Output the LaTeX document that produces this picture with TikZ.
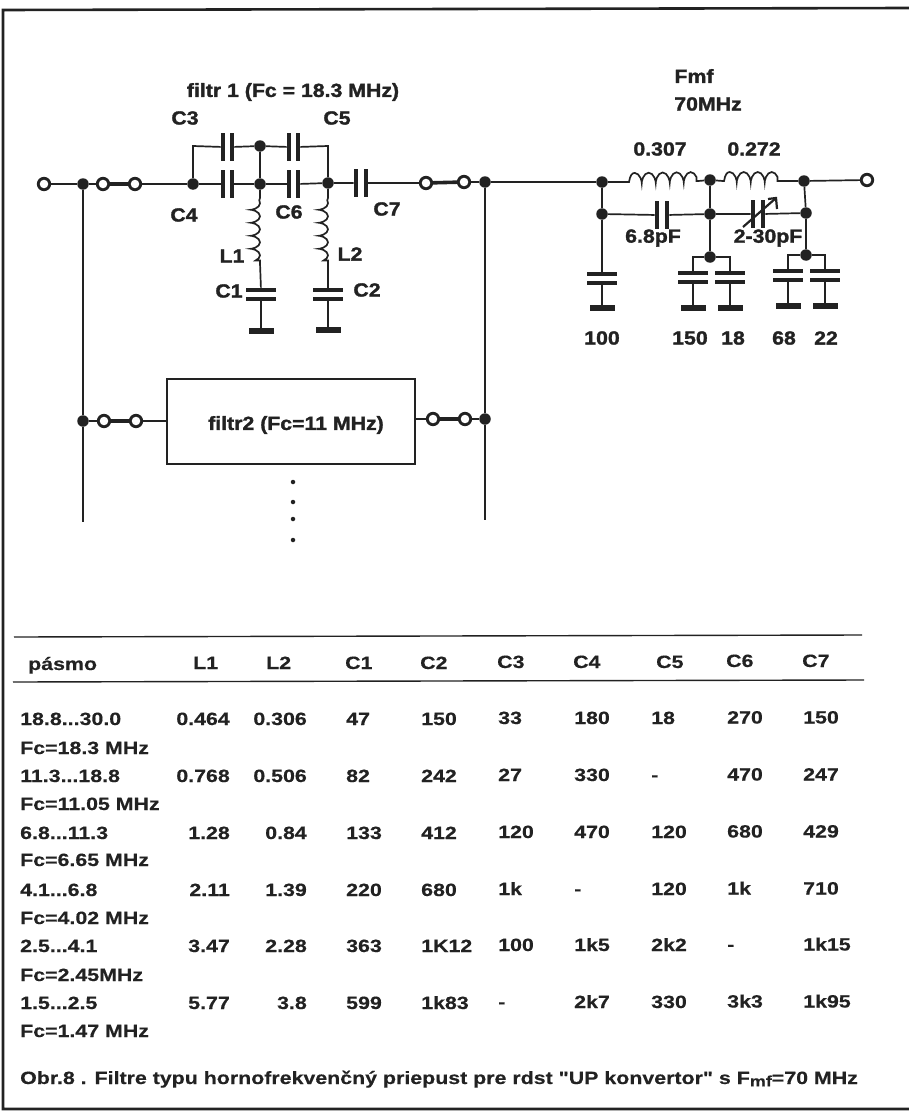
\documentclass[tikz,border=0pt]{standalone}
\usepackage{fontspec}
\usetikzlibrary{decorations.pathmorphing}
\newfontfamily\tabf[FakeStretch=1.2,BoldFeatures={FakeBold=0.4}]{Liberation Sans}
\newfontfamily\schf[FakeStretch=1.12,BoldFeatures={FakeBold=1.6}]{Liberation Sans}
\definecolor{ink}{HTML}{222222}
\tikzset{
  wire/.style={draw=ink,line width=1.7pt},
  thickw/.style={draw=ink,line width=3.6pt},
  frameline/.style={draw=ink,line width=2.6pt},
  rulel/.style={draw=ink,line width=1.4pt},
  junc/.style={circle,fill=ink,inner sep=0pt,minimum size=11.5pt},
  term/.style={circle,draw=ink,fill=white,line width=1.8pt,inner sep=0pt,minimum size=12.5pt},
  vplate/.style={rectangle,fill=ink,inner sep=0pt,minimum width=4.2pt,minimum height=28pt},
  hplate/.style={rectangle,fill=ink,inner sep=0pt,minimum width=30pt,minimum height=4.2pt},
  gndbar/.style={rectangle,fill=ink,inner sep=0pt,minimum width=25pt,minimum height=6.5pt},
  sch/.style={text=ink,inner sep=0pt,anchor=center,font=\schf\fontsize{19}{21}\selectfont\bfseries},
  tab/.style={text=ink,inner sep=0pt,anchor=base west,font=\tabf\fontsize{17.8}{19}\selectfont\bfseries},
  tabr/.style={tab,anchor=base east},
  coilv/.style={wire,decorate,decoration={coil,amplitude=4.5pt,segment length=13pt,aspect=0.45,raise=-4.5pt,pre length=1pt,post length=1pt}},
  coilh/.style={wire,decorate,decoration={coil,amplitude=5pt,segment length=14pt,aspect=0.45,raise=4pt,pre length=1pt,post length=1pt}},
  dotn/.style={circle,fill=ink,inner sep=0pt,minimum size=4.5pt},
  boxn/.style={rectangle,draw=ink,fill=white,line width=2.2pt,inner sep=0pt,minimum width=248pt,minimum height=85pt},
}
\begin{document}
\begin{tikzpicture}[x=1pt,y=-1pt]
\useasboundingbox (0,0) rectangle (909,1113);
% frame
\coordinate (fTR) at (909,8); \coordinate (fTL) at (3,10);
\coordinate (fBL) at (3,1109); \coordinate (fBR) at (909,1109);
\draw[frameline] (fTR) -- (fTL) -- (fBL) -- (fBR);

% ---- filter 1 nodes
\node[term] (tIn) at (44,184) {};
\node[junc] (jA) at (83,184) {};
\node[term] (sw1) at (103,184) {};
\node[term] (sw2) at (135,184) {};
\node[junc] (jB) at (193,184) {};
\node[vplate] (c4a) at (223,184) {};
\node[vplate] (c4b) at (232,184) {};
\node[junc] (jC) at (260,184) {};
\node[vplate] (c6a) at (289,184) {};
\node[vplate] (c6b) at (298,184) {};
\node[junc] (jD) at (328,183) {};
\node[vplate] (c7a) at (356,183) {};
\node[vplate] (c7b) at (366,183) {};
\node[term] (sw3) at (426,183) {};
\node[term] (sw4) at (464,182) {};
\node[junc] (jE) at (485,182) {};
\node[vplate] (c3a) at (223,147) {};
\node[vplate] (c3b) at (232,147) {};
\node[junc] (jF) at (260,146) {};
\node[vplate] (c5a) at (289,147) {};
\node[vplate] (c5b) at (298,147) {};
\coordinate (cnL) at (193,146);
\coordinate (cnR) at (328,146);
\draw[wire] (jA) -- (tIn);
\draw[wire] (jA) -- (sw1);
\draw[thickw] (sw1) -- (sw2);
\draw[wire] (sw2) -- (jB) -- (c4a);
\draw[wire] (c4b) -- (jC) -- (c6a);
\draw[wire] (c6b) -- (jD) -- (c7a);
\draw[wire] (c7b) -- (sw3);
\draw[thickw] (sw3) -- (sw4);
\draw[wire] (sw4) -- (jE);
\draw[wire] (jB) -- (cnL) -- (c3a);
\draw[wire] (c3b) -- (jF) -- (c5a);
\draw[wire] (c5b) -- (cnR) -- (jD);
\draw[wire] (jF) -- (jC);

% L1 C1
\coordinate (l1a) at (260,197);
\coordinate (l1b) at (260,263);
\node[hplate] (c1a) at (261,290) {};
\node[hplate] (c1b) at (261,299) {};
\node[gndbar] (g1) at (261,331) {};
\draw[wire] (jC) -- (l1a);
\draw[coilv] (l1a) -- (l1b);
\draw[wire] (l1b) -- (c1a);
\draw[wire] (c1b) -- (g1);
% L2 C2
\coordinate (l2a) at (328,197);
\coordinate (l2b) at (328,263);
\node[hplate] (c2a) at (328,290) {};
\node[hplate] (c2b) at (328,299) {};
\node[gndbar] (g2) at (328,330) {};
\draw[wire] (jD) -- (l2a);
\draw[coilv] (l2a) -- (l2b);
\draw[wire] (l2b) -- (c2a);
\draw[wire] (c2b) -- (g2);

% ---- output section
\node[junc] (jG) at (602,182) {};
\coordinate (la1) at (628,182);
\coordinate (lb1) at (698,181);
\node[junc] (jH) at (710,180) {};
\coordinate (la2) at (723,181);
\coordinate (lb2) at (791,181);
\node[junc] (jI) at (804,181) {};
\node[term] (tOut) at (867,180) {};
\node[junc] (jJ) at (602,214) {};
\node[vplate] (c68a) at (657,215) {};
\node[vplate] (c68b) at (667,215) {};
\node[junc] (jK) at (710,214) {};
\node[vplate] (cva) at (753,214) {};
\node[vplate] (cvb) at (763,214) {};
\node[junc] (jL) at (806,213) {};
\node[junc] (jM) at (710,257) {};
\node[junc] (jN) at (806,255) {};
\draw[wire] (jE) -- (jG) -- (la1);
\draw[coilh] (la1) -- (lb1);
\draw[wire] (lb1) -- (jH) -- (la2);
\draw[coilh] (la2) -- (lb2);
\draw[wire] (lb2) -- (jI) -- (tOut);
\draw[wire] (jG) -- (jJ) -- (c68a);
\draw[wire] (c68b) -- (jK) -- (cva);
\draw[wire] (cvb) -- (jL);
\draw[wire] (jH) -- (jK) -- (jM);
\draw[wire] (jI) -- (jL) -- (jN);
% variable capacitor arrow
\coordinate (vs) at (743,227);
\coordinate (ve) at (776,198);
\draw[draw=ink,line width=2.2pt] (vs) -- (ve);
\coordinate (vh1) at (768,199);
\coordinate (vh2) at (777,209);
\draw[draw=ink,line width=2.2pt] (vh1) -- (ve) -- (vh2);

% shunt capacitors
\node[hplate] (p1a) at (602,274) {};
\node[hplate] (p1b) at (602,283) {};
\node[gndbar] (p1g) at (602,308) {};
\draw[wire] (jJ) -- (p1a);
\draw[wire] (p1b) -- (p1g);
\node[hplate] (p2a) at (693,273) {};
\node[hplate] (p2b) at (693,282) {};
\node[gndbar] (p2g) at (693,308) {};
\node[hplate] (p3a) at (730,273) {};
\node[hplate] (p3b) at (730,282) {};
\node[gndbar] (p3g) at (730,308) {};
\coordinate (p2t) at (693,257);
\coordinate (p3t) at (730,257);
\draw[wire] (p2a) -- (p2t) -- (jM) -- (p3t) -- (p3a);
\draw[wire] (p2b) -- (p2g);
\draw[wire] (p3b) -- (p3g);
\node[hplate] (p4a) at (788,271) {};
\node[hplate] (p4b) at (788,280) {};
\node[gndbar] (p4g) at (788,306) {};
\node[hplate] (p5a) at (825,271) {};
\node[hplate] (p5b) at (825,280) {};
\node[gndbar] (p5g) at (825,306) {};
\coordinate (p4t) at (788,255);
\coordinate (p5t) at (825,255);
\draw[wire] (p4a) -- (p4t) -- (jN) -- (p5t) -- (p5a);
\draw[wire] (p4b) -- (p4g);
\draw[wire] (p5b) -- (p5g);

% ---- filter 2
\node[boxn] (f2) at (291,421.5) {};
\node[sch] (f2t) at (296,425) {filtr2 (Fc=11 MHz)};
\node[junc] (jP) at (83,421) {};
\node[term] (sw5) at (104,421) {};
\node[term] (sw6) at (136,421) {};
\node[term] (sw7) at (433,419) {};
\node[term] (sw8) at (465,419) {};
\node[junc] (jQ) at (485,419) {};
\draw[wire] (jP) -- (sw5);
\draw[thickw] (sw5) -- (sw6);
\draw[wire] (sw6) -- (sw6-|f2.west);
\draw[wire] (sw7-|f2.east) -- (sw7);
\draw[thickw] (sw7) -- (sw8);
\draw[wire] (sw8) -- (jQ);
\coordinate (busLend) at (83,522);
\coordinate (busRend) at (485,520);
\draw[wire] (jA) -- (jP) -- (busLend);
\draw[wire] (jE) -- (jQ) -- (busRend);
\node[dotn] (d1) at (293,482) {};
\node[dotn] (d2) at (293,502) {};
\node[dotn] (d3) at (293,519) {};
\node[dotn] (d4) at (293,540) {};

% ---- schematic labels
\node[sch] (tF1) at (293,92) {filtr 1 (Fc = 18.3 MHz)};
\node[sch] (tC3) at (185,118) {C3};
\node[sch] (tC5) at (337,118) {C5};
\node[sch] (tC4) at (184,215) {C4};
\node[sch] (tC6) at (289,212) {C6};
\node[sch] (tC7) at (387,209) {C7};
\node[sch] (tL1) at (232,256) {L1};
\node[sch] (tL2) at (350,254) {L2};
\node[sch] (tC1) at (229,291) {C1};
\node[sch] (tC2) at (367,290) {C2};
\node[sch] (tFmf) at (694,76) {Fmf};
\node[sch] (t70) at (708,104) {70MHz};
\node[sch] (t307) at (660,149) {0.307};
\node[sch] (t272) at (754,149) {0.272};
\node[sch] (t68p) at (653,238) {6.8pF};
\node[sch] (t230) at (768,238) {2-30pF};
\node[sch] (v100) at (602,338) {100};
\node[sch] (v150) at (690,338) {150};
\node[sch] (v18) at (733,338) {18};
\node[sch] (v68) at (784,338) {68};
\node[sch] (v22) at (826,338) {22};

% ---- table
\coordinate (r1a) at (14,637); \coordinate (r1b) at (862,635);
\coordinate (r2a) at (13,682); \coordinate (r2b) at (864,680);
\draw[rulel] (r1a) -- (r1b);
\draw[rulel] (r2a) -- (r2b);
\node[tab] (hP) at (28,670) {pásmo};
\node[tab] (hL1) at (193,669) {L1};
\node[tab] (hL2) at (266,669) {L2};
\node[tab] (hC1) at (345,669) {C1};
\node[tab] (hC2) at (420,669) {C2};
\node[tab] (hC3) at (497,668) {C3};
\node[tab] (hC4) at (573,668) {C4};
\node[tab] (hC5) at (656,668) {C5};
\node[tab] (hC6) at (726,667) {C6};
\node[tab] (hC7) at (802,667) {C7};
\foreach \i/\by/\fy/\band/\fc/\la/\lb/\ca/\cb/\cc/\cd/\ce/\cf/\cg in {
 1/725/754/{18.8...30.0}/{Fc=18.3 MHz}/0.464/0.306/47/150/33/180/18/270/150,
 2/782/810/{11.3...18.8}/{Fc=11.05 MHz}/0.768/0.506/82/242/27/330/-/470/247,
 3/839/866/{6.8...11.3}/{Fc=6.65 MHz}/1.28/0.84/133/412/120/470/120/680/429,
 4/896/924/{4.1...6.8}/{Fc=4.02 MHz}/2.11/1.39/220/680/1k/-/120/1k/710,
 5/952/981/{2.5...4.1}/{Fc=2.45MHz}/3.47/2.28/363/1K12/100/1k5/2k2/-/1k15,
 6/1009/1037/{1.5...2.5}/{Fc=1.47 MHz}/5.77/3.8/599/1k83/-/2k7/330/3k3/1k95}{
  \node[tab] (band\i) at (20,\by) {\band};
  \node[tab] (fc\i) at (20,\fy) {\fc};
  \node[tabr] (la\i) at (230,\by) {\la};
  \node[tabr] (lb\i) at (307,\by) {\lb};
  \node[tab] (ca\i) at (346,\by) {\ca};
  \node[tab] (cb\i) at (421,\by) {\cb};
  \node[tab] (cc\i) at (498,\by-1) {\cc};
  \node[tab] (cd\i) at (574,\by-1) {\cd};
  \node[tab] (ce\i) at (651,\by-1) {\ce};
  \node[tab] (cf\i) at (727,\by-1.5) {\cf};
  \node[tab] (cg\i) at (803,\by-1.5) {\cg};
}
\node[tab] (cap) at (20,1084) {Obr.8 . Filtre typu hornofrekvenčný priepust pre rdst "UP konvertor" s F\raisebox{-0.25ex}{\fontsize{15}{15}\selectfont mf}=70 MHz};
% terminals on top of the wires
\foreach \t in {tIn,sw1,sw2,sw3,sw4,sw5,sw6,sw7,sw8,tOut}{\fill[white] (\t) circle (5.4pt); \draw[draw=ink,line width=1.8pt] (\t) circle (5.4pt);}
\end{tikzpicture}
\end{document}
